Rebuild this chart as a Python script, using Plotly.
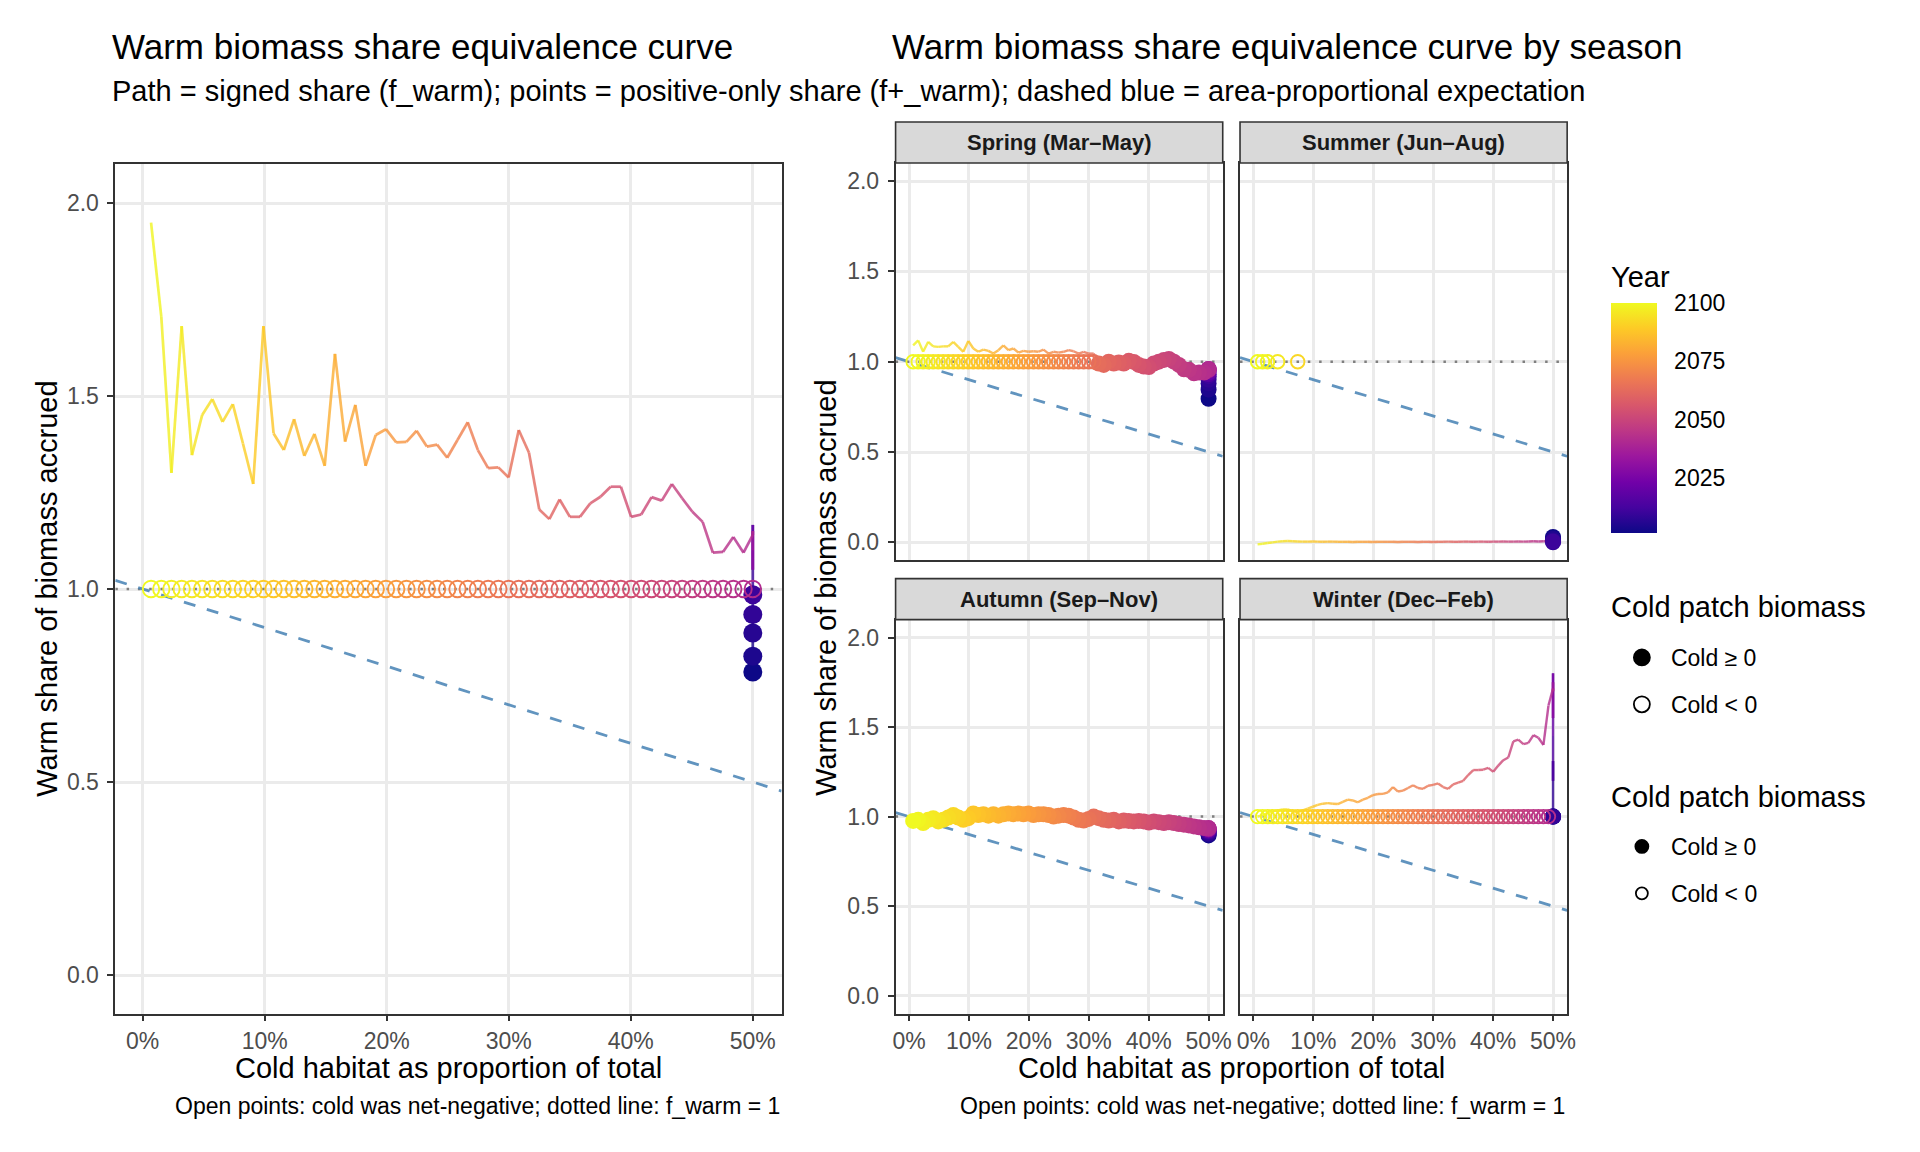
import plotly.graph_objects as go
from plotly.colors import sample_colorscale, sequential

# Data: years (early years all sit at 50% cold share), cold share per year
years = [2001, 2004, 2006, 2008, 2010, 2015, 2020, 2025, 2030, 2035, 2040] + list(range(2041, 2101))

cold_share = [
    0.5, 0.5, 0.5, 0.5, 0.5, 0.5, 0.5, 0.5, 0.5, 0.5, 0.5,
    0.5000, 0.4924, 0.4840, 0.4756, 0.4673, 0.4589, 0.4505, 0.4421, 0.4337, 0.4254,
    0.4170, 0.4086, 0.4003, 0.3919, 0.3835, 0.3752, 0.3668, 0.3584, 0.3501, 0.3417,
    0.3333, 0.3250, 0.3166, 0.3082, 0.2999, 0.2915, 0.2831, 0.2747, 0.2664, 0.2580,
    0.2496, 0.2413, 0.2329, 0.2245, 0.2162, 0.2078, 0.1994, 0.1910, 0.1827, 0.1743,
    0.1659, 0.1576, 0.1492, 0.1408, 0.1325, 0.1241, 0.1157, 0.1073, 0.0990, 0.0906,
    0.0822, 0.0739, 0.0655, 0.0571, 0.0488, 0.0404, 0.0320, 0.0236, 0.0153, 0.0069,
]

# signed warm share f_warm (path)
annual_path = [
    0.785, 0.826, 0.886, 0.934, 0.985, 1.080, 1.166, 1.120, 1.050, 1.100, 1.150,
    1.140, 1.094, 1.135, 1.096, 1.094, 1.174, 1.200, 1.235, 1.272, 1.229,
    1.238, 1.193, 1.187, 1.265, 1.265, 1.239, 1.222, 1.187, 1.187, 1.232,
    1.181, 1.206, 1.353, 1.412, 1.289, 1.315, 1.313, 1.360, 1.432, 1.386,
    1.340, 1.374, 1.369, 1.410, 1.381, 1.380, 1.414, 1.399, 1.319, 1.477,
    1.382, 1.609, 1.319, 1.402, 1.345, 1.440, 1.360, 1.403, 1.681, 1.272,
    1.377, 1.479, 1.433, 1.492, 1.451, 1.347, 1.681, 1.301, 1.705, 1.949,
]
spring_path = [
    0.795, 0.845, 0.880, 0.900, 0.920, 0.930, 0.940, 0.950, 0.955, 0.960, 0.960,
    0.955, 0.940, 0.940, 0.936, 0.955, 0.958, 0.982, 1.000, 1.015, 1.010,
    1.000, 0.990, 0.970, 0.973, 0.982, 0.999, 1.005, 0.990, 0.995, 0.990,
    1.000, 0.982, 0.990, 1.045, 1.045, 1.055, 1.045, 1.058, 1.064, 1.055,
    1.050, 1.055, 1.045, 1.067, 1.055, 1.058, 1.055, 1.060, 1.050, 1.073,
    1.064, 1.090, 1.064, 1.045, 1.060, 1.067, 1.055, 1.073, 1.115, 1.055,
    1.082, 1.110, 1.085, 1.085, 1.082, 1.085, 1.110, 1.055, 1.118, 1.090,
]
summer_path = [
    0.030, 0.020, 0.010, 0.000, 0.005, 0.006, 0.006, 0.006, 0.006, 0.006, 0.006,
    0.006, 0.007, 0.006, 0.005, 0.006, 0.005, 0.004, 0.005, 0.004, 0.004,
    0.005, 0.004, 0.004, 0.003, 0.004, 0.004, 0.003, 0.004, 0.004, 0.003,
    0.003, 0.004, 0.003, 0.003, 0.002, 0.003, 0.003, 0.002, 0.003, 0.003,
    0.003, 0.002, 0.003, 0.003, 0.003, 0.003, 0.002, 0.003, 0.003, 0.003,
    0.002, 0.003, 0.003, 0.003, 0.004, 0.004, 0.003, 0.004, 0.005, 0.004,
    0.004, 0.005, 0.006, 0.007, 0.006, 0.004, 0.000, -0.004, -0.008, -0.011,
]
autumn_path = [
    0.895, 0.900, 0.905, 0.910, 0.915, 0.920, 0.925, 0.930, 0.930, 0.932, 0.935,
    0.936, 0.936, 0.940, 0.945, 0.951, 0.955, 0.958, 0.964, 0.969, 0.964,
    0.969, 0.973, 0.967, 0.973, 0.976, 0.973, 0.976, 0.978, 0.973, 0.982,
    0.978, 0.982, 0.991, 1.000, 0.987, 0.978, 0.982, 0.995, 1.005, 1.009,
    1.005, 1.000, 1.009, 1.013, 1.013, 1.009, 1.018, 1.013, 1.018, 1.013,
    1.018, 1.013, 1.005, 1.013, 1.005, 1.013, 1.009, 1.018, 0.991, 0.982,
    0.995, 1.009, 0.995, 0.982, 0.973, 0.991, 0.982, 0.964, 0.982, 0.976,
]
winter_path = [
    1.000, 1.000, 1.000, 1.000, 1.310, 1.200, 1.450, 1.800, 1.550, 1.750, 1.700,
    1.715, 1.620, 1.400, 1.440, 1.455, 1.412, 1.405, 1.430, 1.420, 1.330,
    1.315, 1.285, 1.250, 1.272, 1.262, 1.260, 1.260, 1.232, 1.200, 1.190,
    1.180, 1.155, 1.165, 1.185, 1.177, 1.172, 1.155, 1.160, 1.175, 1.160,
    1.145, 1.140, 1.165, 1.135, 1.127, 1.126, 1.120, 1.105, 1.095, 1.080,
    1.090, 1.095, 1.082, 1.070, 1.072, 1.075, 1.072, 1.065, 1.055, 1.045,
    1.035, 1.025, 1.030, 1.040, 1.040, 1.035, 1.030, 1.020, 1.010, 1.000,
]

# cold patch sign per year: 1 = cold >= 0 (filled, f+ = f), 0 = cold < 0 (open, f+ = 1), None = no point
N = None
annual_cold = [
    1, 1, 1, 1, 1, N, N, N, N, N, N,
    0, 0, 0, 0, 0, 0, 0, 0, 0, 0, 0, 0, 0, 0, 0, 0, 0, 0, 0, 0,
    0, 0, 0, 0, 0, 0, 0, 0, 0, 0, 0, 0, 0, 0, 0, 0, 0, 0, 0, 0,
    0, 0, 0, 0, 0, 0, 0, 0, 0, 0, 0, 0, 0, 0, 0, 0, 0, 0, 0, 0,
]
spring_cold = [
    1, 1, 1, 1, 1, 1, 1, 1, 1, 1, 1,
    1, 1, 1, 1, 1, 1, 1, 1, 1, 1, 1, 1, 1, 1, 1, 1, 1, 1, 1, 1,
    1, 1, 1, 0, 0, 0, 0, 0, 0, 0, 0, 0, 0, 0, 0, 0, 0, 0, 0, 0,
    0, 0, 0, 0, 0, 0, 0, 0, 0, 0, 0, 0, 0, 0, 0, 0, 0, 0, 0, 0,
]
summer_cold = [
    1, 1, 1, 1, 1, N, N, N, N, N, N,
    N, N, N, N, N, N, N, N, N, N, N, N, N, N, N, N, N, N, N, N,
    N, N, N, N, N, N, N, N, N, N, N, N, N, N, N, N, N, N, N, N,
    N, N, N, N, N, N, N, N, N, N, N, 0, N, N, N, 0, N, 0, 0, 0,
]
autumn_cold = [
    1, 1, 1, 1, 1, 1, 1, 1, 1, 1, 1,
    1, 1, 1, 1, 1, 1, 1, 1, 1, 1, 1, 1, 1, 1, 1, 1, 1, 1, 1, 1,
    1, 1, 1, 1, 1, 1, 1, 1, 1, 1, 1, 1, 1, 1, 1, 1, 1, 1, 1, 1,
    1, 1, 1, 1, 1, 1, 1, 1, 1, 1, 1, 1, 1, 1, 1, 1, 1, 1, 1, 1,
]
winter_cold = [
    1, 1, 1, 1, N, N, N, N, N, N, N,
    N, 0, 0, 0, 0, 0, 0, 0, 0, 0, 0, 0, 0, 0, 0, 0, 0, 0, 0, 0,
    0, 0, 0, 0, 0, 0, 0, 0, 0, 0, 0, 0, 0, 0, 0, 0, 0, 0, 0, 0,
    0, 0, 0, 0, 0, 0, 0, 0, 0, 0, 0, 0, 0, 0, 0, 0, 0, 0, 0, 0,
]

season_labels = ["Spring (Mar\u2013May)", "Summer (Jun\u2013Aug)", "Autumn (Sep\u2013Nov)", "Winter (Dec\u2013Feb)"]
x_ticks = [0, 0.1, 0.2, 0.3, 0.4, 0.5]
y_ticks = [0, 0.5, 1.0, 1.5, 2.0]
year_ticks = [2025, 2050, 2075, 2100]

x_range = [-0.0224, 0.5236]
y_range = [-0.1, 2.1]
YEAR_MIN, YEAR_MAX = min(years), max(years)

W, H = 1920, 1152
FONT = "Liberation Sans, Arial, Helvetica, sans-serif"


def px(v):
    return v / W


def py(v):
    return 1 - v / H


seg_colors = sample_colorscale(sequential.Plasma, [(y - YEAR_MIN) / (YEAR_MAX - YEAR_MIN) for y in years])

# panel: axis suffix, x domain px, y domain px, path, cold flags, filled size, open size
panels = [
    ("", (113, 783.5), (164.4, 1013.6), annual_path, annual_cold, 19, 16.5),
    ("2", (898.2, 1227.4), (163, 560.4), spring_path, spring_cold, 16, 13.5),
    ("3", (1244.8, 1574), (163, 560.4), summer_path, summer_cold, 16, 13.5),
    ("4", (898.2, 1227.4), (619.6, 1013.6), autumn_path, autumn_cold, 16, 13.5),
    ("5", (1244.8, 1574), (619.6, 1013.6), winter_path, winter_cold, 16, 13.5),
]

# colour bar geometry (px)
CB_LEFT, CB_TOP, CB_BOTTOM, CB_THICK = 1618, 303.3, 533.3, 46

fig = go.Figure()

first = True
for sfx, xd, yd, path, cold, fsize, osize in panels:
    xa, ya = "x" + sfx, "y" + sfx
    # dotted f_warm = 1
    fig.add_trace(go.Scatter(
        x=x_range, y=[1, 1], mode="lines", xaxis=xa, yaxis=ya,
        line=dict(color="#7F7F7F", width=2.5, dash="2.5px,8.8px"),
        showlegend=False, hoverinfo="skip"))
    # dashed area-proportional expectation
    fig.add_trace(go.Scatter(
        x=x_range, y=[1 - v for v in x_range], mode="lines", xaxis=xa, yaxis=ya,
        line=dict(color="#4682B4", width=2.8, dash="12px,12px"), opacity=0.85,
        showlegend=False, hoverinfo="skip"))
    # path segments coloured by year
    for i in range(len(years) - 1):
        if path[i] is None or path[i + 1] is None:
            continue
        fig.add_trace(go.Scatter(
            x=[cold_share[i], cold_share[i + 1]], y=[path[i], path[i + 1]],
            mode="lines", xaxis=xa, yaxis=ya,
            line=dict(color=seg_colors[i], width=2.7 if sfx == "" else 2.4),
            opacity=0.8, showlegend=False, hoverinfo="skip"))
    # points
    fx = [cold_share[i] for i in range(len(years)) if cold[i] == 1]
    fy = [path[i] for i in range(len(years)) if cold[i] == 1]
    fc = [years[i] for i in range(len(years)) if cold[i] == 1]
    ox = [cold_share[i] for i in range(len(years)) if cold[i] == 0]
    oy = [1.0 for i in range(len(years)) if cold[i] == 0]
    oc = [years[i] for i in range(len(years)) if cold[i] == 0]
    fig.add_trace(go.Scatter(
        x=fx, y=fy, mode="markers", xaxis=xa, yaxis=ya,
        marker=dict(symbol="circle", size=fsize, color=fc, colorscale="Plasma",
                    cmin=YEAR_MIN, cmax=YEAR_MAX, line=dict(width=0),
                    showscale=first,
                    colorbar=dict(
                        tickvals=year_ticks, ticks="outside", tickcolor="rgba(0,0,0,0)", ticklen=13,
                        tickfont=dict(size=23, color="black"),
                        thickness=CB_THICK, len=CB_BOTTOM - CB_TOP, lenmode="pixels",
                        x=px(CB_LEFT), xanchor="left", xpad=0,
                        y=py((CB_TOP + CB_BOTTOM) / 2), yanchor="middle", ypad=0,
                        outlinewidth=0)),
        showlegend=False, hoverinfo="skip"))
    fig.add_trace(go.Scatter(
        x=ox, y=oy, mode="markers", xaxis=xa, yaxis=ya,
        marker=dict(symbol="circle-open", size=osize, color=oc, colorscale="Plasma",
                    cmin=YEAR_MIN, cmax=YEAR_MAX, line=dict(width=1.9)),
        showlegend=False, hoverinfo="skip"))
    first = False

    top_row = sfx in ("2", "3")
    right_col = sfx in ("3", "5")
    fig.layout["xaxis" + sfx] = dict(
        domain=[px(xd[0]), px(xd[1])], range=x_range, anchor=ya,
        tickvals=x_ticks, tickformat=".0%", showticklabels=not top_row,
        ticks="" if top_row else "outside", ticklen=6, tickwidth=1.6, tickcolor="#333333",
        tickfont=dict(size=23, color="#4D4D4D"),
        showgrid=True, gridcolor="#EBEBEB", gridwidth=2.6, zeroline=False,
        showline=True, mirror=True, linecolor="#333333", linewidth=1.6)
    fig.layout["yaxis" + sfx] = dict(
        domain=[py(yd[1]), py(yd[0])], range=y_range, anchor=xa,
        tickvals=y_ticks, tickformat=".1f", showticklabels=not right_col,
        ticks="" if right_col else "outside", ticklen=6, tickwidth=1.6, tickcolor="#333333",
        tickfont=dict(size=23, color="#4D4D4D"), ticklabelstandoff=4,
        showgrid=True, gridcolor="#EBEBEB", gridwidth=2.6, zeroline=False,
        showline=True, mirror=True, linecolor="#333333", linewidth=1.6)

# legend key traces
for name, sym, leg, size in [("Cold \u2265 0", "circle", "legend", 17), ("Cold &lt; 0", "circle-open", "legend", 16),
                             ("Cold \u2265 0", "circle", "legend2", 13), ("Cold &lt; 0", "circle-open", "legend2", 12)]:
    fig.add_trace(go.Scatter(
        x=[None], y=[None], mode="markers", name=name, legend=leg,
        legendgroup=leg + name,
        marker=dict(symbol=sym, size=size, color="black", line=dict(width=1.8, color="black"))))

shapes = []
annotations = []

# strips
strip_boxes = [((898.2, 1227.4), (122, 163)), ((1244.8, 1574), (122, 163)),
               ((898.2, 1227.4), (578.6, 619.6)), ((1244.8, 1574), (578.6, 619.6))]
for label, (sx, sy) in zip(season_labels, strip_boxes):
    shapes.append(dict(type="rect", xref="paper", yref="paper",
                       x0=px(sx[0]), x1=px(sx[1]), y0=py(sy[1]), y1=py(sy[0]),
                       fillcolor="#D9D9D9", line=dict(color="#333333", width=1.6), layer="above"))
    annotations.append(dict(text="<b>" + label + "</b>", xref="paper", yref="paper",
                            x=px((sx[0] + sx[1]) / 2), y=py((sy[0] + sy[1]) / 2),
                            xanchor="center", yanchor="middle", showarrow=False,
                            font=dict(size=22, color="#1A1A1A")))

# white tick marks inside the colour bar, at the year ticks
for t in year_ticks[:-1]:
    ty = CB_BOTTOM - (t - YEAR_MIN) / (YEAR_MAX - YEAR_MIN) * (CB_BOTTOM - CB_TOP)
    for x0, x1 in [(CB_LEFT, CB_LEFT + 9), (CB_LEFT + CB_THICK - 9, CB_LEFT + CB_THICK)]:
        shapes.append(dict(type="line", xref="paper", yref="paper", x0=px(x0), x1=px(x1),
                           y0=py(ty), y1=py(ty), line=dict(color="white", width=1.2), layer="above"))

texts = [
    ("Warm biomass share equivalence curve", 108, 46, "left", 0, 35),
    ("Path = signed share (f_warm); points = positive-only share (f+_warm); dashed blue = area-proportional expectation",
     108, 91, "left", 0, 29),
    ("Warm biomass share equivalence curve by season", 893, 46, "left", 0, 35),
    ("Cold habitat as proportion of total", 448, 1068, "center", 0, 29),
    ("Cold habitat as proportion of total", 1236, 1068, "center", 0, 29),
    ("Warm share of biomass accrued", 44, 589, "center", -90, 29),
    ("Warm share of biomass accrued", 828, 588, "center", -90, 29),
    ("Open points: cold was net-negative; dotted line: f_warm = 1", 783.5, 1106, "right", 0, 23),
    ("Open points: cold was net-negative; dotted line: f_warm = 1", 1574, 1106, "right", 0, 23),
    ("Year", 1616, 277, "left", 0, 29),
    ("Cold patch biomass", 1616, 607, "left", 0, 29),
    ("Cold patch biomass", 1616, 797, "left", 0, 29),
]
for t, x, y, anchor, ang, size in texts:
    annotations.append(dict(text=t, xref="paper", yref="paper", x=px(x), y=py(y),
                            xanchor=anchor, yanchor="middle", textangle=ang, showarrow=False,
                            font=dict(size=size, color="black")))

leg_common = dict(font=dict(size=23, color="black"), bgcolor="rgba(0,0,0,0)",
                  xanchor="left", yanchor="top", tracegroupgap=14, itemsizing="trace", itemwidth=48)
fig.update_layout(
    width=W, height=H, margin=dict(l=0, r=0, t=0, b=0),
    paper_bgcolor="white", plot_bgcolor="white",
    font=dict(family=FONT, color="black"),
    shapes=shapes, annotations=annotations,
    legend=dict(x=px(1620), y=py(636), **leg_common),
    legend2=dict(x=px(1620), y=py(825), **leg_common),
)

fig.write_html("out.html", config={"displayModeBar": False},
               post_script="document.body.style.margin='0';")
